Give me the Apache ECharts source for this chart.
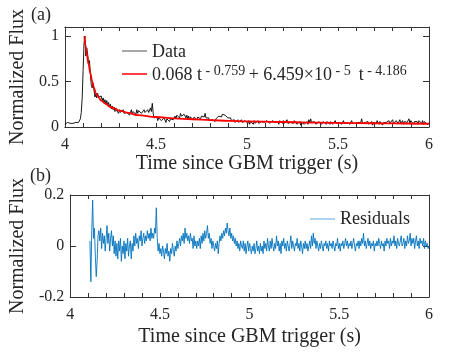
<!DOCTYPE html>
<html><head><meta charset="utf-8">
<script src="https://cdn.jsdelivr.net/npm/echarts@6/dist/echarts.min.js"></script>
<style>html,body{margin:0;padding:0;background:#fff}#c{width:474px;height:356px}</style>
</head><body><div id="c"></div>
<script>
// ---- data ----
const fluxStart = 4.0;      // first time bin of the light curve (s)
const residualStart = 4.11; // first time bin of the residuals (s)
const binStep = 0.005;      // bin width (s)

const fluxValues = [
0.03,0.04,0.03,0.05,0.04,0.03,0.04,0.05,0.04,0.04,
0.05,0.04,0.05,0.04,0.06,0.05,0.07,0.09,0.16,0.32,
0.62,0.92,1.00,0.78,0.87,0.80,0.70,0.73,0.58,0.46,
0.43,0.48,0.40,0.33,0.36,0.32,0.37,0.33,0.35,0.31,
0.34,0.29,0.32,0.27,0.30,0.25,0.29,0.24,0.27,0.22,
0.25,0.20,0.23,0.19,0.22,0.17,0.21,0.18,0.20,0.15,
0.19,0.16,0.18,0.14,0.19,0.15,0.17,0.13,0.16,0.14,
0.17,0.13,0.16,0.19,0.14,0.17,0.15,0.18,0.14,0.19,
0.15,0.18,0.16,0.19,0.15,0.17,0.14,0.19,0.16,0.18,
0.15,0.19,0.16,0.18,0.21,0.17,0.26,0.15,0.10,0.12,
0.08,0.11,0.07,0.10,0.08,0.11,0.07,0.09,0.06,0.10,
0.08,0.05,0.09,0.07,0.10,0.06,0.09,0.07,0.11,0.08,
0.10,0.12,0.09,0.13,0.11,0.14,0.10,0.15,0.12,0.13,
0.11,0.14,0.12,0.10,0.13,0.09,0.12,0.08,0.11,0.09,
0.10,0.08,0.11,0.09,0.12,0.08,0.11,0.10,0.13,0.09,
0.12,0.10,0.14,0.11,0.15,0.10,0.12,0.08,0.10,0.07,
0.09,0.06,0.08,0.07,0.10,0.06,0.09,0.11,0.08,0.12,
0.10,0.13,0.11,0.14,0.12,0.16,0.13,0.11,0.14,0.10,
0.12,0.09,0.10,0.07,0.09,0.06,0.08,0.05,0.07,0.06,
0.08,0.05,0.07,0.04,0.08,0.05,0.06,0.04,0.07,0.05,
0.06,0.04,0.07,0.03,0.06,0.04,0.05,0.03,0.07,0.04,
0.06,0.03,0.07,0.04,0.05,0.03,0.06,0.04,0.08,0.05,
0.06,0.04,0.07,0.05,0.08,0.04,0.06,0.03,0.07,0.05,
0.09,0.05,0.07,0.04,0.06,0.03,0.07,0.05,0.06,0.04,
0.07,0.04,0.06,0.05,0.08,0.04,0.06,0.03,0.05,0.04,
0.06,0.04,0.07,0.05,0.06,0.03,0.05,0.04,0.06,0.02,
0.05,0.04,0.06,0.03,0.05,0.04,0.06,0.03,0.08,0.05,
0.09,0.05,0.07,0.04,0.06,0.05,0.03,0.05,0.04,0.06,
0.04,0.05,0.03,0.05,0.06,0.04,0.05,0.03,0.06,0.04,
0.05,0.03,0.06,0.04,0.03,0.05,0.04,0.07,0.04,0.05,
0.03,0.05,0.04,0.06,0.03,0.05,0.07,0.04,0.06,0.03,
0.05,0.04,0.06,0.03,0.05,0.07,0.04,0.03,0.05,0.04,
0.06,0.03,0.05,0.04,0.07,0.05,0.09,0.04,0.06,0.03,
0.05,0.07,0.04,0.06,0.03,0.05,0.04,0.06,0.02,0.05,
0.04,0.06,0.04,0.07,0.05,0.03,0.06,0.04,0.05,0.02,
0.05,0.04,0.07,0.05,0.06,0.03,0.07,0.04,0.06,0.05,
0.08,0.04,0.06,0.03,0.07,0.05,0.04,0.06,0.08,0.04,
0.05,0.07,0.03,0.06,0.04,0.08,0.05,0.06,0.09,0.04,
0.07,0.05,0.07,0.03,0.06,0.08,0.04,0.06,0.03,0.07,
0.05,0.06,0.04,0.07,0.03,0.06,0.04,0.05,0.03,0.04,
0.04
];

const fitTimes  = [4.107,4.115,4.12,4.13,4.14,4.15,4.16,4.17,4.18,4.2,4.22,4.25,4.3,4.35,4.4,4.5,4.6,4.7,4.8,4.9,5.0,5.2,5.4,5.6,5.8,6.0];
const fitValues = [1.0,0.88,0.80,0.69,0.59,0.50,0.43,0.37,0.34,0.29,0.26,0.22,0.18,0.155,0.13,0.11,0.095,0.085,0.075,0.068,0.062,0.055,0.048,0.043,0.039,0.036];

const residualValues = [
0.02,-0.14,0.06,0.18,0.03,0.07,-0.04,-0.12,-0.06,0.04,
0.06,0.02,0.07,-0.01,0.05,0.01,0.04,-0.02,0.03,0.08,
0.01,0.05,-0.02,0.03,0.06,0.00,0.04,-0.03,0.02,-0.04,
0.01,-0.05,0.02,-0.02,0.03,-0.06,0.00,-0.03,0.02,-0.05,
0.01,-0.02,0.03,-0.04,0.00,0.02,-0.05,0.01,-0.02,0.04,
0.00,0.05,0.01,0.03,-0.01,0.04,0.02,0.06,0.00,0.03,
0.05,0.01,0.04,0.02,0.06,0.03,0.05,0.02,0.07,0.03,
0.05,0.03,0.07,0.05,0.15,0.03,-0.02,0.01,-0.03,-0.01,
-0.04,0.00,-0.02,-0.05,-0.01,-0.03,0.01,-0.04,-0.02,-0.06,
-0.01,-0.03,0.01,-0.02,-0.04,0.00,-0.02,0.02,-0.01,0.01,
0.03,0.00,0.04,0.02,0.05,0.01,0.07,0.03,0.05,0.02,
0.04,0.01,0.05,0.02,0.03,-0.01,0.04,0.00,0.02,-0.01,
0.02,0.00,0.03,-0.01,0.04,0.01,0.05,0.02,0.06,0.03,
0.05,0.08,0.03,0.05,0.01,0.03,-0.01,0.02,0.00,-0.02,
0.01,-0.01,0.02,-0.03,0.01,0.04,0.02,0.05,0.03,0.06,
0.04,0.07,0.05,0.09,0.06,0.04,0.07,0.03,0.05,0.02,
0.04,0.01,0.03,0.00,0.02,-0.01,0.01,-0.02,0.02,0.00,
-0.01,0.02,-0.02,0.01,-0.03,0.00,0.02,-0.02,0.01,-0.01,
-0.03,0.00,-0.02,0.01,-0.03,-0.01,0.02,-0.02,0.00,-0.03,
0.01,-0.02,0.00,-0.03,0.02,-0.01,0.01,-0.02,0.03,0.00,
-0.02,0.02,-0.01,0.03,0.00,-0.02,0.01,-0.01,0.04,0.00,
0.02,-0.02,0.01,-0.03,0.02,0.00,0.03,-0.01,0.01,-0.02,
0.02,0.00,-0.02,0.01,0.04,-0.01,0.02,0.00,-0.02,0.01,
0.00,0.03,-0.01,0.01,-0.02,0.02,0.00,-0.03,0.01,-0.01,
0.02,-0.01,0.01,-0.02,0.00,0.02,-0.01,0.04,0.00,0.05,
0.01,0.03,-0.01,0.02,0.00,-0.02,0.01,-0.01,0.02,0.00,
-0.02,0.01,0.00,0.02,-0.01,0.01,-0.02,0.02,0.00,0.01,
-0.01,0.02,0.00,-0.02,0.01,0.00,0.03,-0.01,0.01,-0.02,
0.01,0.00,0.02,-0.01,0.01,0.03,0.00,0.02,-0.01,0.01,
0.00,0.02,-0.01,0.01,0.03,0.00,-0.02,0.01,0.00,0.02,
-0.01,0.02,0.00,0.03,0.01,0.05,0.00,0.02,-0.01,0.01,
0.03,0.00,0.02,-0.01,0.01,0.00,0.02,-0.02,0.01,0.00,
0.02,0.00,0.03,0.01,-0.01,0.02,0.00,0.01,-0.02,0.02,
0.00,0.03,0.01,0.02,-0.01,0.03,0.00,0.02,0.01,0.04,
0.00,0.02,-0.01,0.03,0.01,0.00,0.02,0.04,0.00,0.01,
0.03,-0.01,0.02,0.00,0.04,0.01,0.02,0.05,0.00,0.03,
0.01,0.03,-0.01,0.02,0.04,0.00,0.02,-0.01,0.03,0.01,
0.02,0.00,0.03,-0.01,0.02,0.00,0.01,-0.01,0.00
];

const xTickLabels = ['4','4.5','5','5.5','6'];
const fluxTickLabels = ['0','0.5','1'];
const residualTickLabels = ['-0.2','0','0.2'];

// ---- chart ----
const FONT = '"Liberation Serif", "Times New Roman", serif';
const INK = '#262626';
const FRAME = '#333333';
const LEGEND_LINE = 'path://M0,0L25,0L25,1.5L0,1.5Z';

const toPairs = (start, vals) => vals.map((v, i) => [Math.round((start + i * binStep) * 1000) / 1000, v]);
const fluxPairs = toPairs(fluxStart, fluxValues);
const residualPairs = toPairs(residualStart, residualValues);
const fitPairs = fitTimes.map((t, i) => [t, fitValues[i]]);

function xAxisCfg(gridIndex, position, withLabels, nameGap) {
  return {
    type: 'value', gridIndex, position, min: 4, max: 6, interval: 0.5,
    axisLine: { show: true, onZero: false, lineStyle: { color: FRAME, width: 1 } },
    axisTick: { show: true, inside: true, length: 4, lineStyle: { color: FRAME } },
    minorTick: { show: true, splitNumber: 5, length: 4, lineStyle: { color: FRAME } },
    splitLine: { show: false }, minorSplitLine: { show: false },
    axisLabel: withLabels ? {
      show: true, fontSize: 16, fontFamily: FONT, color: INK, margin: 10,
      formatter: v => { const i = Math.round((v - 4) / 0.5); return Math.abs(v - (4 + i * 0.5)) < 1e-6 ? xTickLabels[i] : ''; }
    } : { show: false },
    name: withLabels ? 'Time since GBM trigger (s)' : '',
    nameLocation: 'middle', nameGap: nameGap || 0,
    nameTextStyle: { fontSize: 20, fontFamily: FONT, color: INK }
  };
}

function yAxisCfg(gridIndex, position, min, max, interval, labels, withLabels) {
  return {
    type: 'value', gridIndex, position, min, max, interval,
    axisLine: { show: true, onZero: false, lineStyle: { color: FRAME, width: 1 } },
    axisTick: { show: true, inside: true, length: 6, lineStyle: { color: FRAME } },
    splitLine: { show: false },
    axisLabel: withLabels ? {
      show: true, fontSize: 16, fontFamily: FONT, color: INK, margin: 6,
      formatter: v => { const i = Math.round((v - min) / interval); return (Math.abs(v - (min + i * interval)) < 1e-6 && labels[i] !== undefined) ? labels[i] : ''; }
    } : { show: false },
    name: withLabels ? 'Normalized Flux' : '',
    nameLocation: 'middle', nameGap: 36, nameRotate: 90,
    nameTextStyle: { fontSize: 20, fontFamily: FONT, color: INK }
  };
}

const chart = echarts.init(document.getElementById('c'), null, { renderer: 'canvas' });
chart.setOption({
  animation: false,
  backgroundColor: '#ffffff',
  title: [
    { text: '(a)', left: 31, top: 6, padding: 0, textStyle: { fontSize: 18, fontWeight: 'normal', fontFamily: FONT, color: INK } },
    { text: '(b)', left: 30, top: 167, padding: 0, textStyle: { fontSize: 18, fontWeight: 'normal', fontFamily: FONT, color: INK } }
  ],
  grid: [
    { left: 62, right: 45, top: 27, height: 100 },
    { left: 62, right: 45, top: 195, height: 102 }
  ],
  xAxis: [
    xAxisCfg(0, 'bottom', true, 27),
    xAxisCfg(0, 'top', false),
    xAxisCfg(1, 'bottom', true, 30),
    xAxisCfg(1, 'top', false)
  ],
  yAxis: [
    yAxisCfg(0, 'left', 0, 1.1, 0.5, fluxTickLabels, true),
    yAxisCfg(0, 'right', 0, 1.1, 0.5, fluxTickLabels, false),
    yAxisCfg(1, 'left', -0.2, 0.2, 0.2, residualTickLabels, true),
    yAxisCfg(1, 'right', -0.2, 0.2, 0.2, residualTickLabels, false)
  ],
  legend: [
    {
      data: [
        { name: 'Data', icon: LEGEND_LINE, itemStyle: { color: '#8a8a8a' } },
        { name: 'fit', icon: LEGEND_LINE, itemStyle: { color: '#ff0000' } }
      ],
      orient: 'vertical', left: 122, top: 43, padding: 0, itemGap: 3,
      itemWidth: 25, itemHeight: 1.5,
      textStyle: {
        fontSize: 18, fontFamily: FONT, color: INK,
        rich: {
          m: { fontSize: 18, fontFamily: FONT, color: INK, lineHeight: 20, verticalAlign: 'bottom' },
          s: { fontSize: 14, fontFamily: FONT, color: INK, lineHeight: 10, verticalAlign: 'top' }
        }
      },
      formatter: function (name) {
        return name === 'fit'
          ? '{m|0.068 t}{s| - 0.759 }{m|+ 6.459×10}{s| - 5 }{m| t}{s| - 4.186}'
          : '{m|' + name + '}';
      }
    },
    {
      data: [{ name: 'Residuals', icon: LEGEND_LINE, itemStyle: { color: '#8fc3e8' } }],
      orient: 'horizontal', left: 310, top: 210, padding: 0, itemWidth: 25, itemHeight: 1.5,
      textStyle: { fontSize: 18, fontFamily: FONT, color: INK }
    }
  ],
  series: [
    {
      name: 'Data', type: 'line', xAxisIndex: 0, yAxisIndex: 0, data: fluxPairs,
      showSymbol: false, symbol: 'none', lineStyle: { color: '#000000', width: 0.9 }, itemStyle: { color: '#000000' }, z: 2
    },
    {
      name: 'fit', type: 'line', xAxisIndex: 0, yAxisIndex: 0, data: fitPairs,
      showSymbol: false, symbol: 'none', smooth: 0.4, smoothMonotone: 'x',
      lineStyle: { color: '#ff0000', width: 1.8 }, itemStyle: { color: '#ff0000' }, z: 3
    },
    {
      name: 'Residuals', type: 'line', xAxisIndex: 2, yAxisIndex: 2, data: residualPairs,
      showSymbol: false, symbol: 'none', lineStyle: { color: '#0072BD', width: 0.9 }, itemStyle: { color: '#0072BD' }, z: 2
    }
  ]
});
</script>
</body></html>
